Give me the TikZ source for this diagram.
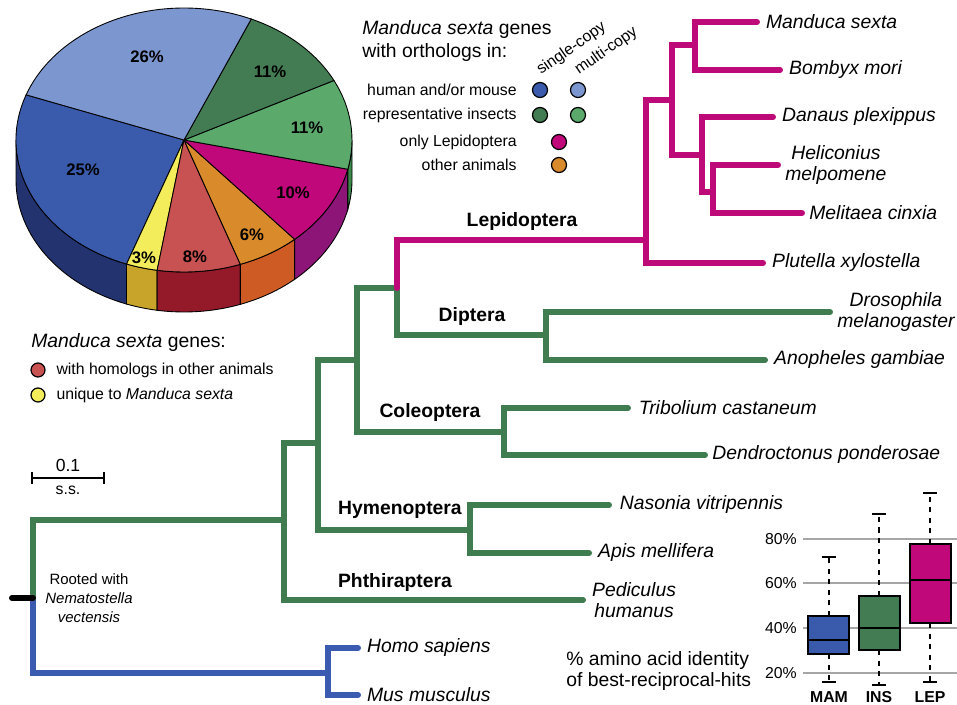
\documentclass[tikz,border=0pt]{standalone}
\usepackage{fontspec}
\setmainfont{Liberation Sans}
\usepackage{tikz}
\usetikzlibrary{positioning,calc}
\definecolor{verdearbol}{HTML}{3F7C50}
\definecolor{rosaarbol}{HTML}{BE0A78}
\definecolor{azularbol}{HTML}{3A5BB0}
\definecolor{azuloscuro}{HTML}{3A5BAC}
\definecolor{azulclaro}{HTML}{7C96CF}
\definecolor{verdeoscuro}{HTML}{437B52}
\definecolor{verdeclaro}{HTML}{5BAA6C}
\definecolor{rosa}{HTML}{C0087A}
\definecolor{naranja}{HTML}{D98A2B}
\definecolor{rojo}{HTML}{C85251}
\definecolor{amarillo}{HTML}{F3ED5B}
\definecolor{azullado}{HTML}{23336F}
\definecolor{amarillolado}{HTML}{C9A42A}
\definecolor{rojolado}{HTML}{941A29}
\definecolor{naranjalado}{HTML}{CE5B24}
\definecolor{rosalado}{HTML}{8C1577}
\definecolor{verdelado}{HTML}{3B8A4A}
\tikzstyle{rama} = [line width=3.4pt, line cap=round]
\tikzstyle{ramaverde} = [rama, draw=verdearbol]
\tikzstyle{ramarosa} = [rama, draw=rosaarbol]
\tikzstyle{ramaazul} = [rama, draw=azularbol]
\tikzstyle{especie} = [font=\fontsize{11}{11.5}\selectfont\itshape, inner sep=0pt, align=center]
\tikzstyle{clado} = [font=\fontsize{11}{13}\selectfont\bfseries, inner sep=0pt]
\tikzstyle{gajo} = [draw=black, line width=0.5pt]
\tikzstyle{porcentaje} = [font=\fontsize{9.5}{11}\selectfont\bfseries, inner sep=0pt]
\tikzstyle{punto} = [circle, draw=black, line width=0.7pt, minimum size=0.3cm, inner sep=0pt]
\tikzstyle{textoley} = [font=\fontsize{9}{11}\selectfont, inner sep=0pt]
\tikzstyle{caja} = [draw=black, line width=1.2pt]
\tikzstyle{bigote} = [black, line width=0.9pt, dashed]
\tikzstyle{rejilla} = [black!35, line width=0.6pt]

\begin{document}
\begin{tikzpicture}[x=0.02cm, y=-0.02cm]
	\useasboundingbox (0,0) rectangle (957,705);
	% Tarta
	\begin{scope}[shift={(184,140)}, y=0.02cm]
		\filldraw[gajo, fill=azullado] (180:168 and 132) arc[start angle=180, end angle=250, x radius=168, y radius=132] -- ++(0,-40) arc[start angle=250, end angle=180, x radius=168, y radius=132] -- cycle;
		\filldraw[gajo, fill=amarillolado] (250:168 and 132) arc[start angle=250, end angle=260.8, x radius=168, y radius=132] -- ++(0,-40) arc[start angle=260.8, end angle=250, x radius=168, y radius=132] -- cycle;
		\filldraw[gajo, fill=rojolado] (260.8:168 and 132) arc[start angle=260.8, end angle=289.6, x radius=168, y radius=132] -- ++(0,-40) arc[start angle=289.6, end angle=260.8, x radius=168, y radius=132] -- cycle;
		\filldraw[gajo, fill=naranjalado] (289.6:168 and 132) arc[start angle=289.6, end angle=311.2, x radius=168, y radius=132] -- ++(0,-40) arc[start angle=311.2, end angle=289.6, x radius=168, y radius=132] -- cycle;
		\filldraw[gajo, fill=rosalado] (311.2:168 and 132) arc[start angle=311.2, end angle=347.2, x radius=168, y radius=132] -- ++(0,-40) arc[start angle=347.2, end angle=311.2, x radius=168, y radius=132] -- cycle;
		\filldraw[gajo, fill=verdelado] (347.2:168 and 132) arc[start angle=347.2, end angle=360, x radius=168, y radius=132] -- ++(0,-40) arc[start angle=360, end angle=347.2, x radius=168, y radius=132] -- cycle;
		\filldraw[gajo, fill=azuloscuro] (0,0) -- (160:168 and 132) arc[start angle=160, end angle=250, x radius=168, y radius=132] -- cycle;
		\filldraw[gajo, fill=amarillo] (0,0) -- (250:168 and 132) arc[start angle=250, end angle=260.8, x radius=168, y radius=132] -- cycle;
		\filldraw[gajo, fill=rojo] (0,0) -- (260.8:168 and 132) arc[start angle=260.8, end angle=289.6, x radius=168, y radius=132] -- cycle;
		\filldraw[gajo, fill=naranja] (0,0) -- (289.6:168 and 132) arc[start angle=289.6, end angle=311.2, x radius=168, y radius=132] -- cycle;
		\filldraw[gajo, fill=rosa] (0,0) -- (311.2:168 and 132) arc[start angle=311.2, end angle=347.2, x radius=168, y radius=132] -- cycle;
		\filldraw[gajo, fill=verdeclaro] (0,0) -- (347.2:168 and 132) arc[start angle=347.2, end angle=386.8, x radius=168, y radius=132] -- cycle;
		\filldraw[gajo, fill=verdeoscuro] (0,0) -- (26.8:168 and 132) arc[start angle=26.8, end angle=66.4, x radius=168, y radius=132] -- cycle;
		\filldraw[gajo, fill=azulclaro] (0,0) -- (66.4:168 and 132) arc[start angle=66.4, end angle=160, x radius=168, y radius=132] -- cycle;
	\end{scope}
	\node (p26) [porcentaje] at (147,57) {26\%};
	\node (p11a) [porcentaje] at (270,72) {11\%};
	\node (p11b) [porcentaje] at (307,128) {11\%};
	\node (p10) [porcentaje] at (293,193) {10\%};
	\node (p6) [porcentaje] at (252,235) {6\%};
	\node (p8) [porcentaje] at (195,257) {8\%};
	\node (p3) [porcentaje] at (144,258) {3\%};
	\node (p25) [porcentaje] at (83,170) {25\%};
	% Leyenda de la tarta
	\node (titulo) [anchor=west, align=left, inner sep=0pt, font=\fontsize{11}{13}\selectfont] at (362,41) {\textit{Manduca sexta} genes\\with orthologs in:};
	\node (simple) [textoley, anchor=south west, rotate=35] at (543,78) {single-copy};
	\node (multi) [textoley, anchor=south west, rotate=35] at (581,78) {multi-copy};
	\node (humano) [textoley, anchor=east] at (517,90) {human and/or mouse};
	\node (insectos) [textoley, anchor=east] at (517,115) {representative insects};
	\node (solo) [textoley, anchor=east] at (517,142) {only Lepidoptera};
	\node (otros) [textoley, anchor=east] at (517,165) {other animals};
	\node (d1) [punto, fill=azuloscuro] at (540,90) {};
	\node (d2) [punto, fill=azulclaro] at (578,90) {};
	\node (d3) [punto, fill=verdeoscuro] at (540,115) {};
	\node (d4) [punto, fill=verdeclaro] at (578,115) {};
	\node (d5) [punto, fill=rosa] at (559,142) {};
	\node (d6) [punto, fill=naranja] at (559,165) {};
	% Leyenda inferior
	\node (genes) [anchor=west, inner sep=0pt, font=\fontsize{11}{13}\selectfont] at (31,343) {\textit{Manduca sexta} genes:};
	\node (d7) [punto, fill=rojo, minimum size=0.28cm] at (38,370) {};
	\node (d8) [punto, fill=amarillo, minimum size=0.28cm] at (38,395) {};
	\node (homologos) [textoley, right=6pt of d7] {with homologs in other animals};
	\node (unicos) [textoley, right=6pt of d8] {unique to \textit{Manduca sexta}};
	% Escala
	\coordinate (esc1) at (32,478);
	\coordinate (esc2) at (104,478);
	\draw[line width=1pt] (esc1) -- (esc2);
	\draw[line width=1pt] ($(esc1)+(0,-6)$) -- ($(esc1)+(0,6)$);
	\draw[line width=1pt] ($(esc2)+(0,-6)$) -- ($(esc2)+(0,6)$);
	\node (valor) [font=\fontsize{10}{12}\selectfont] at (68,465) {0.1};
	\node (unidad) [font=\fontsize{9}{11}\selectfont] at (68,490) {s.s.};
	% Nodos del arbol
	\coordinate (raiz) at (33,598);
	\coordinate (grupoext) at (12,598);
	\coordinate (verte) at (328,673);
	\coordinate (ins1) at (284,520);
	\coordinate (ins2) at (318,443);
	\coordinate (ins3) at (357,360);
	\coordinate (ins4) at (397,288);
	\coordinate (dip) at (546,335);
	\coordinate (col) at (504,432);
	\coordinate (hym) at (470,530);
	\coordinate (lep) at (646,240);
	\coordinate (lep2) at (672,100);
	\coordinate (lep3) at (695,45);
	\coordinate (lep4) at (702,155);
	\coordinate (lep5) at (713,192);
	\coordinate (msex) at (757,22);
	\coordinate (bmor) at (780,70);
	\coordinate (dple) at (773,117);
	\coordinate (hmel) at (778,165);
	\coordinate (mcin) at (802,213);
	\coordinate (pxyl) at (763,263);
	\coordinate (dmel) at (830,312);
	\coordinate (agam) at (765,360);
	\coordinate (tcas) at (628,408);
	\coordinate (dpon) at (705,455);
	\coordinate (nvit) at (609,505);
	\coordinate (amel) at (589,553);
	\coordinate (phum) at (583,600);
	\coordinate (hsap) at (358,648);
	\coordinate (mmus) at (358,695);
	% Ramas
	\draw[ramaazul] (raiz) |- (verte);
	\draw[ramaverde] (raiz) |- (ins1);
	\draw[rama, draw=black] (raiz) -- (grupoext);
	\draw[ramaazul] (verte) |- (hsap);
	\draw[ramaazul] (verte) |- (mmus);
	\draw[ramaverde] (ins1) |- (ins2);
	\draw[ramaverde] (ins1) |- (phum);
	\draw[ramaverde] (ins2) |- (ins3);
	\draw[ramaverde] (ins2) |- (hym);
	\draw[ramaverde] (ins3) |- (col);
	\draw[ramaverde] (ins3) |- (ins4);
	\draw[ramaverde] (ins4) |- (dip);
	\draw[ramarosa] (ins4) |- (lep);
	\draw[ramaverde] (dip) |- (dmel);
	\draw[ramaverde] (dip) |- (agam);
	\draw[ramaverde] (col) |- (tcas);
	\draw[ramaverde] (col) |- (dpon);
	\draw[ramaverde] (hym) |- (nvit);
	\draw[ramaverde] (hym) |- (amel);
	\draw[ramarosa] (lep) |- (lep2);
	\draw[ramarosa] (lep) |- (pxyl);
	\draw[ramarosa] (lep2) |- (lep3);
	\draw[ramarosa] (lep2) |- (lep4);
	\draw[ramarosa] (lep3) |- (msex);
	\draw[ramarosa] (lep3) |- (bmor);
	\draw[ramarosa] (lep4) |- (dple);
	\draw[ramarosa] (lep4) |- (lep5);
	\draw[ramarosa] (lep5) |- (hmel);
	\draw[ramarosa] (lep5) |- (mcin);
	% Especies
	\node (msexT) [especie, right=5pt of msex] {Manduca sexta};
	\node (bmorT) [especie, right=5pt of bmor] {Bombyx mori};
	\node (dpleT) [especie, right=5pt of dple] {Danaus plexippus};
	\node (hmelT) [especie, right=4pt of hmel] {Heliconius\\melpomene};
	\node (mcinT) [especie, right=4pt of mcin] {Melitaea cinxia};
	\node (pxylT) [especie, right=5pt of pxyl] {Plutella xylostella};
	\node (dmelT) [especie, right=4pt of dmel] {Drosophila\\melanogaster};
	\node (agamT) [especie, right=5pt of agam] {Anopheles gambiae};
	\node (tcasT) [especie, right=6pt of tcas] {Tribolium castaneum};
	\node (dponT) [especie, right=4pt of dpon] {Dendroctonus ponderosae};
	\node (nvitT) [especie, right=6pt of nvit] {Nasonia vitripennis};
	\node (amelT) [especie, right=5pt of amel] {Apis mellifera};
	\node (phumT) [especie, right=5pt of phum] {Pediculus\\humanus};
	\node (hsapT) [especie, right=5pt of hsap] {Homo sapiens};
	\node (mmusT) [especie, right=5pt of mmus] {Mus musculus};
	\node (raizT) [align=center, inner sep=0pt, font=\fontsize{8.5}{10.8}\selectfont] at (89,598) {Rooted with\\\textit{Nematostella}\\\textit{vectensis}};
	% Clados
	\node (lepL) [clado] at (522,222) {Lepidoptera};
	\node (dipL) [clado] at (472,317) {Diptera};
	\node (colL) [clado] at (430,413) {Coleoptera};
	\node (hymL) [clado] at (400,510) {Hymenoptera};
	\node (phtL) [clado] at (395,583) {Phthiraptera};
	% Cajas
	\draw[rejilla] (803,539) -- (957,539);
	\draw[rejilla] (803,583) -- (957,583);
	\draw[rejilla] (803,628) -- (957,628);
	\draw[rejilla] (803,673) -- (957,673);
	\node (t80) [textoley, anchor=east] at (797,539) {80\%};
	\node (t60) [textoley, anchor=east] at (797,583) {60\%};
	\node (t40) [textoley, anchor=east] at (797,628) {40\%};
	\node (t20) [textoley, anchor=east] at (797,673) {20\%};
	\draw[bigote] (829,616) -- (829,557);
	\draw[bigote] (829,654) -- (829,682);
	\draw[line width=0.9pt] (822,557) -- (836,557);
	\draw[line width=0.9pt] (822,682) -- (836,682);
	\draw[bigote] (879,596) -- (879,514);
	\draw[bigote] (879,650) -- (879,685);
	\draw[line width=0.9pt] (872,514) -- (886,514);
	\draw[line width=0.9pt] (872,685) -- (886,685);
	\draw[bigote] (930,544) -- (930,493);
	\draw[bigote] (930,623) -- (930,682);
	\draw[line width=0.9pt] (923,493) -- (937,493);
	\draw[line width=0.9pt] (923,682) -- (937,682);
	\filldraw[caja, fill=azuloscuro] (808,616) rectangle (849,654);
	\draw[caja] (808,640) -- (849,640);
	\filldraw[caja, fill=verdeoscuro] (859,596) rectangle (900,650);
	\draw[caja] (859,628) -- (900,628);
	\filldraw[caja, fill=rosa] (910,544) rectangle (951,623);
	\draw[caja] (910,580) -- (951,580);
	\node (mam) [font=\fontsize{9}{11}\selectfont\bfseries] at (829,697) {MAM};
	\node (ins) [font=\fontsize{9}{11}\selectfont\bfseries] at (879,697) {INS};
	\node (lepB) [font=\fontsize{9}{11}\selectfont\bfseries] at (930,697) {LEP};
	\node (identidad) [anchor=west, align=left, inner sep=0pt, font=\fontsize{11}{12.5}\selectfont] at (566,671) {\% amino acid identity\\of best-reciprocal-hits};
\end{tikzpicture}
\end{document}
